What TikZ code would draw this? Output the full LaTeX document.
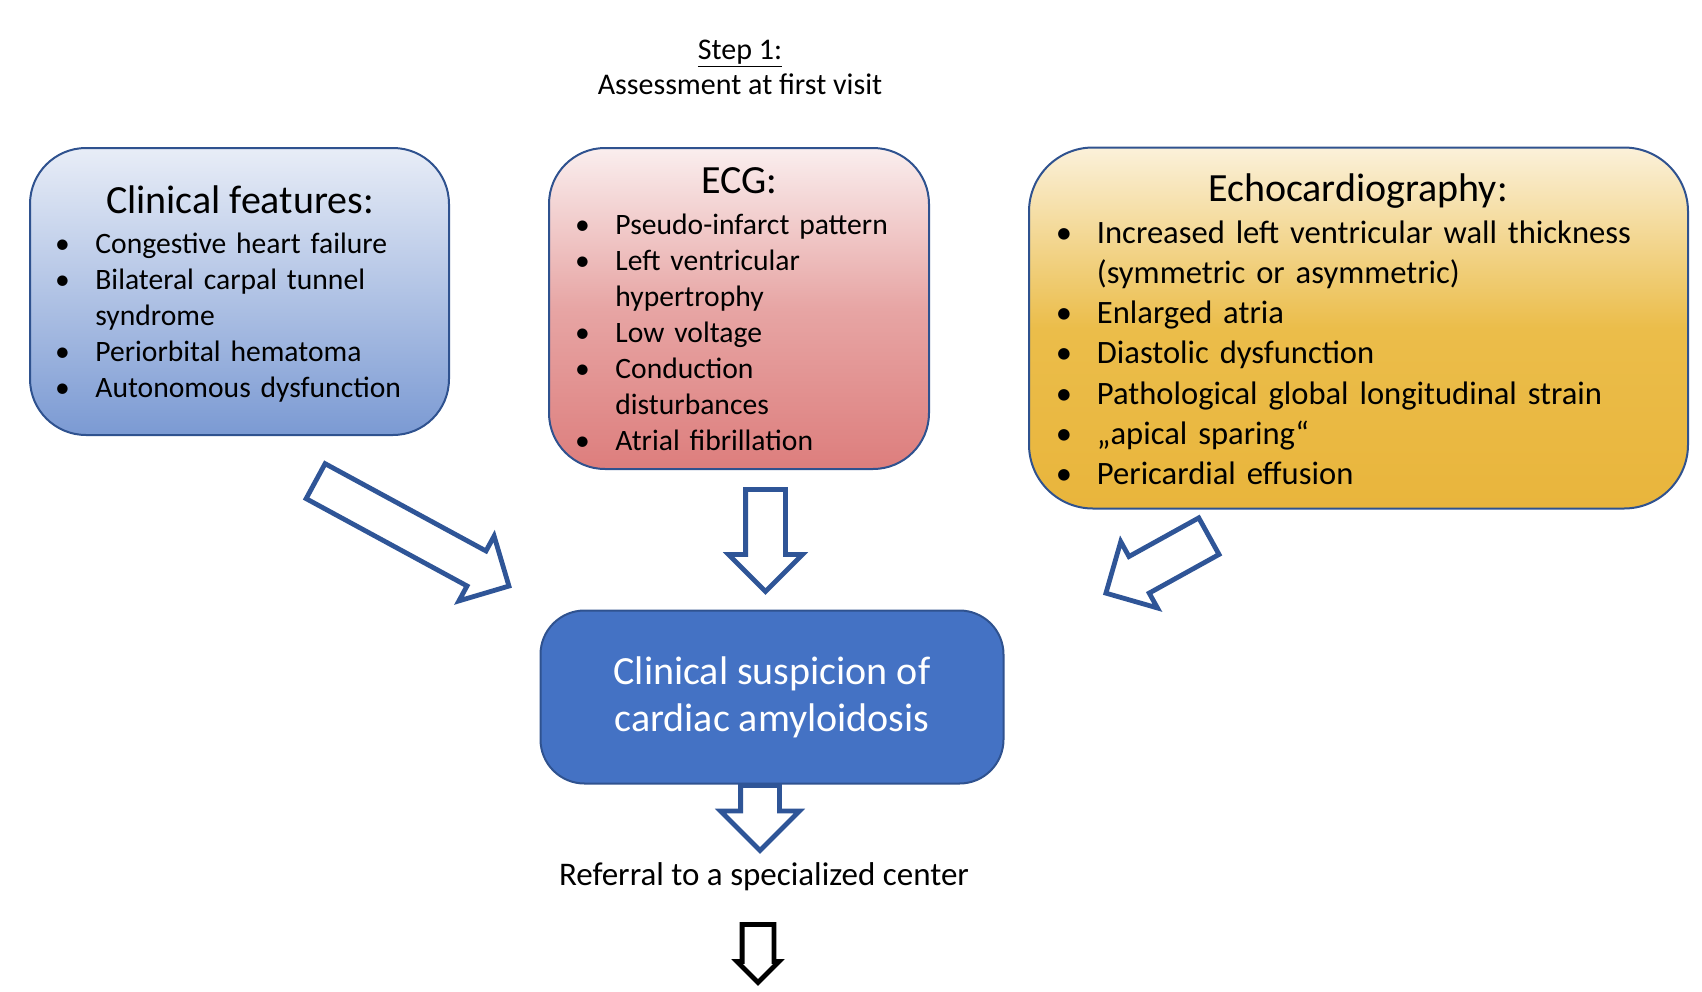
\documentclass[tikz,border=0pt]{standalone}
\usepackage{fontspec}
\setmainfont{Carlito}
\usetikzlibrary{shapes.arrows,calc,positioning}

\definecolor{panelline}{HTML}{2F528F}
\definecolor{arrowline}{HTML}{2F5597}
\definecolor{suspfill}{HTML}{4472C4}
\definecolor{clinTop}{HTML}{E8EDF7}
\definecolor{clinBot}{HTML}{7B9AD3}
\definecolor{ecgTop}{HTML}{FAEEEE}
\definecolor{ecgMid}{HTML}{E7A5A4}
\definecolor{ecgBot}{HTML}{DD7E7D}
\definecolor{echoTop}{HTML}{FBF1DA}
\definecolor{echoMid}{HTML}{EBBD4A}
\definecolor{echoBot}{HTML}{E9B53C}

\newcommand{\bul}{\makebox[0pt]{\textbullet}\hspace{16.5pt}}
\newcommand{\ind}{\hspace*{16.5pt}}
% block arrow laid between two named points
\newcommand{\fatarrow}[4][]{%
  \path let \p1=($(#4)-(#3)$), \n1={veclen(\x1,\y1)} in
    (#3) -- (#4) node[pos=0, sloped, allow upside down, anchor=tail, fatarrow, minimum height=\n1, #1] (#2) {};}

\tikzset{
  panel/.style={draw=panelline, line width=1pt, rounded corners=28pt, inner sep=0pt},
  paneltitle/.style={font=\fontsize{20}{24}\selectfont, inner sep=0pt, anchor=base},
  itemlist/.style={font=\fontsize{14.8}{18}\selectfont, align=left, text width=200pt, inner sep=0pt, anchor=base west},
  fatarrow/.style={single arrow, draw=arrowline, fill=white, line width=2.4pt, inner xsep=0pt,
    inner ysep=8.75pt, single arrow head extend=8.5pt, minimum width=0pt},
  plainlabel/.style={font=\fontsize{15}{18}\selectfont, inner sep=0pt, anchor=base}
}

\begin{document}
\begin{tikzpicture}[x=0.5pt, y=-0.5pt]
  \useasboundingbox (0,0) rectangle (1702,991);

  % heading
  \node[plainlabel] (step) at (740,59) {\underline{Step 1:}};
  \node[plainlabel] (visit) at (740,94) {Assessment at first visit};

  % clinical features
  \node[panel, top color=clinTop, bottom color=clinBot, minimum width=209.5pt, minimum height=143.5pt] (clin) at (239.5,291.5) {};
  \node[paneltitle] (clinT) at (240,213) {Clinical features:};
  \node[itemlist] (clinL) at (62,253) {\bul Congestive heart failure\\ \bul Bilateral carpal tunnel\\ \ind syndrome\\ \bul Periorbital hematoma\\ \bul Autonomous dysfunction};

  % ECG
  \node[panel, top color=ecgTop, bottom color=ecgBot, middle color=ecgMid, minimum width=190pt, minimum height=160.5pt] (ecg) at (739,308.5) {};
  \node[paneltitle] (ecgT) at (739,193) {ECG:};
  \node[itemlist] (ecgL) at (582,234) {\bul Pseudo-infarct pattern\\ \bul Left ventricular\\ \ind hypertrophy\\ \bul Low voltage\\ \bul Conduction\\ \ind disturbances\\ \bul Atrial fibrillation};

  % echocardiography
  \node[panel, top color=echoTop, bottom color=echoBot, middle color=echoMid, rounded corners=32pt, minimum width=329.5pt, minimum height=180.5pt] (echo) at (1358.5,328) {};
  \node[paneltitle] (echoT) at (1358,201) {Echocardiography:};
  \node[itemlist, font=\fontsize{16.3}{20.15}\selectfont, text width=320pt] (echoL) at (1063.5,243) {\bul Increased left ventricular wall thickness\\ \ind (symmetric or asymmetric)\\ \bul Enlarged atria\\ \bul Diastolic dysfunction\\ \bul Pathological global longitudinal strain\\ \bul „apical sparing“\\ \bul Pericardial effusion};

  % suspicion
  \node[panel, fill=suspfill, rounded corners=22pt, minimum width=231.5pt, minimum height=86.5pt, align=center, text=white, font=\fontsize{20}{23.5}\selectfont] (susp) at (772,697) {\rule{0pt}{4pt}Clinical suspicion of\\cardiac amyloidosis};
  \node[plainlabel, font=\fontsize{16.5}{20}\selectfont] (refer) at (764,885) {Referral to a specialized center};

  % arrows
  \coordinate (clinA) at (313.5,480);
  \coordinate (clinB) at (507,585);
  \coordinate (ecgA) at (765.5,487);
  \coordinate (ecgB) at (765.5,589);
  \coordinate (echoA) at (1211,535);
  \coordinate (echoB) at (1108,592);
  \coordinate (suspA) at (760,783);
  \coordinate (suspB) at (760,848);
  \coordinate (referA) at (758,922);
  \coordinate (referB) at (758,980);
  \fatarrow{arrClin}{clinA}{clinB}
  \fatarrow{arrEcg}{ecgA}{ecgB}
  \fatarrow[inner ysep=9.25pt, single arrow head extend=8.5pt]{arrEcho}{echoA}{echoB}
  \fatarrow[inner ysep=8.5pt, single arrow head extend=10pt]{arrSusp}{suspA}{suspB}
  \fatarrow[draw=black, inner ysep=6.75pt, single arrow head extend=2.5pt]{arrRefer}{referA}{referB}
\end{tikzpicture}
\end{document}
